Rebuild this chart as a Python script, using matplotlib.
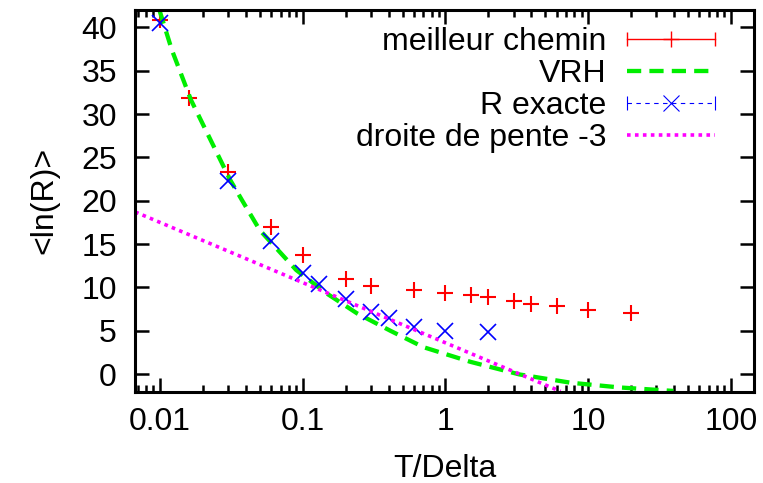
import numpy as np
import matplotlib
matplotlib.use("Agg")
import matplotlib.pyplot as plt
from matplotlib.lines import Line2D
from matplotlib.legend_handler import HandlerBase
from matplotlib.ticker import FixedLocator, LogLocator, NullFormatter

plt.rcParams['font.family'] = ['Liberation Sans', 'DejaVu Sans']

# meilleur chemin (red +)
chemin_x = [0.01, 0.016, 0.03, 0.06, 0.1, 0.2, 0.3, 0.6, 1, 1.5, 2, 3, 4, 6, 10, 20]
chemin_y = [40.8, 31.9, 23.3, 17.0, 13.7, 11.0, 10.2, 9.7, 9.3, 9.1, 8.85, 8.4, 8.1, 7.85, 7.4, 7.0]

# R exacte (blue x)
exacte_x = [0.01, 0.03, 0.06, 0.1, 0.13, 0.2, 0.3, 0.4, 0.6, 1, 2]
exacte_y = [40.5, 22.3, 15.35, 11.7, 10.4, 8.6, 7.2, 6.5, 5.45, 5.0, 4.8]

# VRH curve
vrh_x = [0.0099, 0.0121, 0.0165, 0.031, 0.0374, 0.05, 0.09, 0.147, 0.24, 0.41, 0.70, 1.5, 3.3, 7.5, 16.6, 39.5]
vrh_y = [42.0, 37.4, 31.6, 22.4, 20.1, 16.6, 12.0, 9.3, 7.0, 5.0, 3.1, 1.4, -0.05, -1.0, -1.55, -1.95]

# droite de pente -3
droite_x = [0.0067, 6.4]
droite_y = [18.7, -2.0]

x_ticks = [0.01, 0.1, 1, 10, 100]
x_labels = ["0.01", "0.1", "1", "10", "100"]
y_ticks = list(range(0, 41, 5))

FS = 23


class HandlerErr(HandlerBase):
    # gnuplot style errorbar key: line with end caps and point in the middle
    def __init__(self, ls, lw):
        super().__init__()
        self.ls = ls
        self.lw = lw

    def create_artists(self, legend, orig_handle, xdescent, ydescent,
                       width, height, fontsize, trans):
        y = height / 2 - ydescent
        x0 = -xdescent
        x1 = x0 + width
        c = orig_handle.get_color()
        line = Line2D([x0, x1], [y, y], color=c, ls=self.ls, lw=self.lw)
        caps = Line2D([x0, x1], [y, y], color=c, ls='none', marker='|',
                      ms=10, mew=self.lw)
        mid = Line2D([(x0 + x1) / 2], [y], color=c, ls='none',
                     marker=orig_handle.get_marker(),
                     ms=orig_handle.get_markersize(), mew=self.lw)
        for a in (line, caps, mid):
            a.set_transform(trans)
        return [line, caps, mid]


fig = plt.figure(figsize=(7.63, 4.83), dpi=100)
ax = fig.add_axes([135 / 763, 1 - 391.7 / 483, 619 / 763, 381.7 / 483])

h_chemin, = ax.plot(chemin_x, chemin_y, ls='none', marker='+', ms=12, mew=1.5,
                    color='#ff0000', label='meilleur chemin')
h_vrh, = ax.plot(vrh_x, vrh_y, color='#00ee00', lw=3.1, dashes=(3.3, 1.9),
                 label='VRH')
h_exacte, = ax.plot(exacte_x, exacte_y, ls='none', marker='x', ms=11.5, mew=1.2,
                    color='#0000ff', label='R exacte')
h_droite, = ax.plot(droite_x, droite_y, color='#ff00ff', lw=2.6,
                    dashes=(1.0, 1.2), label='droite de pente -3')

ax.set_xscale('log')
ax.set_xlim(0.00668, 145)
ax.set_ylim(-2.04, 42.0)

ax.xaxis.set_major_locator(FixedLocator(x_ticks))
ax.set_xticklabels(x_labels)
ax.xaxis.set_minor_locator(LogLocator(base=10, subs=np.arange(2, 10)))
ax.xaxis.set_minor_formatter(NullFormatter())
ax.set_yticks(y_ticks)

for s in ax.spines.values():
    s.set_linewidth(2.2)
ax.tick_params(which='both', direction='in', top=True, right=True,
               labelsize=FS, width=1.8)
ax.tick_params(which='major', length=10)
ax.tick_params(which='minor', length=5)
ax.tick_params(axis='x', which='major', pad=11)
ax.tick_params(axis='y', which='major', pad=13)

ax.set_xlabel('T/Delta', fontsize=FS, labelpad=12)
ax.set_ylabel('<ln(R)>', fontsize=FS, labelpad=16)

leg = ax.legend([h_chemin, h_vrh, h_exacte, h_droite],
                ['meilleur chemin', 'VRH', 'R exacte', 'droite de pente -3'],
                handler_map={h_chemin: HandlerErr('-', 1.0),
                             h_exacte: HandlerErr((0, (4, 4)), 0.8)},
                loc='upper right', bbox_to_anchor=(0.937, 0.955),
                frameon=False, markerfirst=False, fontsize=FS,
                handlelength=2.76, handletextpad=0.63, labelspacing=0.06,
                borderpad=0, borderaxespad=0)

fig.savefig('out.png', dpi=100)
